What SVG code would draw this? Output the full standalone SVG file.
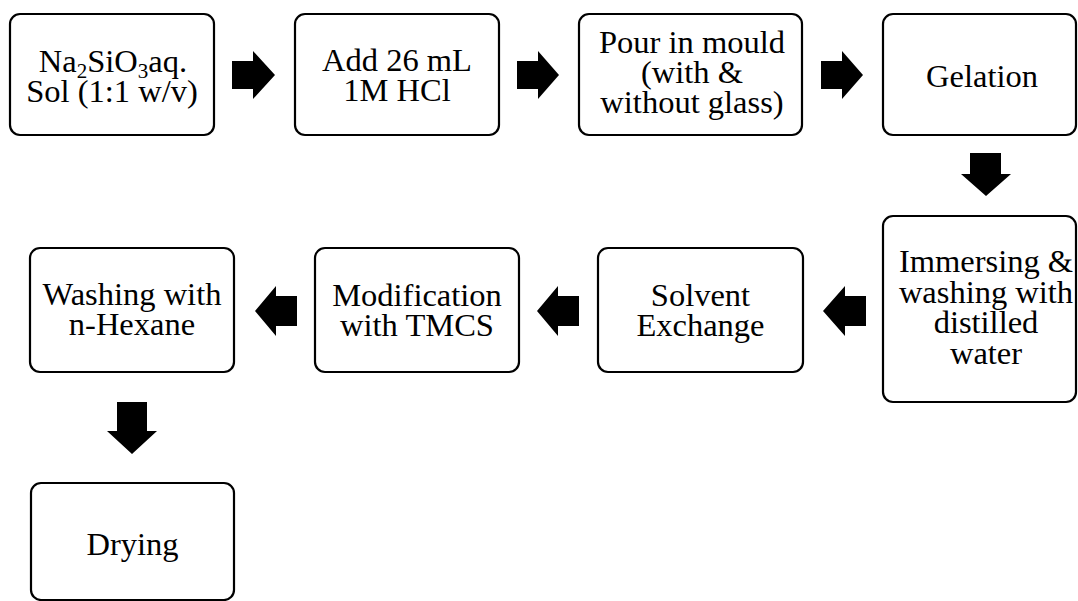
<svg xmlns="http://www.w3.org/2000/svg" width="1078" height="601" viewBox="0 0 1078 601">
<style>
.box{fill:#fff;stroke:#000;stroke-width:2.2}
.t{font-family:"Liberation Serif","Times New Roman",serif;font-size:32.5px;fill:#000;text-anchor:middle}
.sub{font-size:21px}
.arr{fill:#000;stroke:none}
</style>
<rect width="1078" height="601" fill="#fff"/>
<g id="connectors">
<polygon class="arr" points="232,61 253,61 253,51 275,75 253,99 253,89 232,89"/>
<polygon class="arr" points="517,61 538,61 538,51 559,75 538,99 538,89 517,89"/>
<polygon class="arr" points="821,61 842,61 842,51 863,75 842,99 842,89 821,89"/>
<polygon class="arr" points="970,153 1001,153 1001,174 1011,174 986,196 961,174 970,174"/>
<polygon class="arr" points="866,296 845,296 845,286 823,311 845,336 845,326 866,326"/>
<polygon class="arr" points="579,296 558,296 558,286 537,311 558,336 558,326 579,326"/>
<polygon class="arr" points="297,296 276,296 276,286 255,311 276,336 276,326 297,326"/>
<polygon class="arr" points="117,402 147,402 147,431 157,431 132,454 107,431 117,431"/>
</g>
<g id="n1"><rect class="box" x="10" y="14" width="204" height="121" rx="10"/>
<text class="t" x="113" y="72">Na<tspan class="sub" dy="6">2</tspan><tspan dy="-6">SiO</tspan><tspan class="sub" dy="6">3</tspan><tspan dy="-6">aq.</tspan></text>
<text class="t" x="112" y="102">Sol (1:1 w/v)</text></g>
<g id="n2"><rect class="box" x="295" y="14" width="204" height="121" rx="10"/>
<text class="t" y="71"><tspan x="397">Add 26 mL</tspan><tspan x="397" dy="30">1M HCl</tspan></text></g>
<g id="n3"><rect class="box" x="579" y="14" width="223" height="121" rx="10"/>
<text class="t" y="53"><tspan x="692">Pour in mould</tspan><tspan x="692" dy="30">(with &amp;</tspan><tspan x="692" dy="30">without glass)</tspan></text></g>
<g id="n4"><rect class="box" x="883" y="14" width="193" height="121" rx="10"/>
<text class="t" x="982" y="87">Gelation</text></g>
<g id="n5"><rect class="box" x="883" y="216" width="193" height="186" rx="10"/>
<text class="t" y="272"><tspan x="986">Immersing &amp;</tspan><tspan x="986" dy="30.5">washing with</tspan><tspan x="986" dy="30.5">distilled</tspan><tspan x="986" dy="30.5">water</tspan></text></g>
<g id="n6"><rect class="box" x="598" y="248" width="205" height="124" rx="10"/>
<text class="t" y="306"><tspan x="700.5">Solvent</tspan><tspan x="700.5" dy="30">Exchange</tspan></text></g>
<g id="n7"><rect class="box" x="315" y="248" width="204" height="124" rx="10"/>
<text class="t" y="306"><tspan x="417">Modification</tspan><tspan x="417" dy="30">with TMCS</tspan></text></g>
<g id="n8"><rect class="box" x="30" y="248" width="204" height="124" rx="10"/>
<text class="t" y="305"><tspan x="132">Washing with</tspan><tspan x="132" dy="30">n-Hexane</tspan></text></g>
<g id="n9"><rect class="box" x="31" y="483" width="203" height="117" rx="10"/>
<text class="t" x="132.5" y="555">Drying</text></g>
</svg>
